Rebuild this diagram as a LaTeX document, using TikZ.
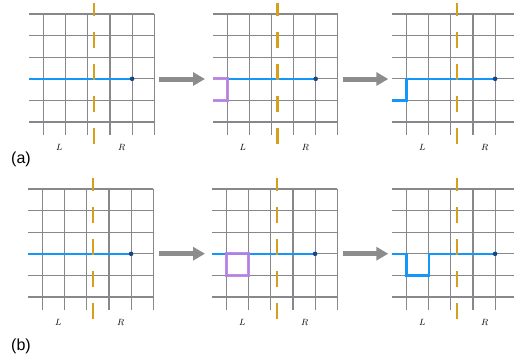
\documentclass[tikz,border=0pt]{standalone}
\usepackage{fontspec}
\newfontfamily\capfont{Liberation Sans}
\usetikzlibrary{arrows.meta}
\definecolor{gridgray}{RGB}{136,136,140}
\definecolor{pathblue}{RGB}{20,150,250}
\definecolor{dotblue}{RGB}{25,70,130}
\definecolor{cutorange}{RGB}{212,160,30}
\definecolor{loopviolet}{RGB}{185,130,230}
\definecolor{arrowgray}{RGB}{140,140,140}
\tikzset{
  gridline/.style={draw=gridgray, line width=1.15pt},
  cutline/.style={draw=cutorange, line width=2.6pt},
  bluepath/.style={draw=pathblue, line width=2.5pt, line join=miter},
  violetpath/.style={draw=loopviolet, line width=3.2pt, line join=miter, opacity=0.9},
  sidelab/.style={inner sep=0pt, font=\fontsize{9.5}{11}\selectfont},
  caplab/.style={inner sep=0pt, font=\capfont\fontsize{16}{19}\selectfont},
  bigarrow/.style={draw=arrowgray, line width=5pt, -{Triangle[length=12pt,width=13pt]}},
  enddot/.style={fill=dotblue},
}
\newcommand\drawlattice[3]{%
  \begin{scope}[shift={(#1,#2)}]
    \foreach \k in {0,...,5} \draw[gridline] (-14.4,\k*21.6) -- (110.5,\k*21.6);
    \foreach \i in {0,...,5} \draw[gridline] (\i*22.1,0) -- (\i*22.1,121.3);
    \node[sidelab] (#3L) at (15.5,133) {$L$};
    \node[sidelab] (#3R) at (78,133) {$R$};
  \end{scope}}
\newcommand\drawcut[2]{%
  \begin{scope}[shift={(#1,#2)}]
    \foreach \a/\b in {-10.7/2, 18.3/34.3, 50.3/66.3, 82.3/98.3, 114.3/130.3}
      \draw[cutline] (50.3,\a) -- (50.3,\b);
    \fill[enddot] (88.4,64.8) circle[radius=2.3pt];
  \end{scope}}
\begin{document}
\begin{tikzpicture}[x=1pt, y=-1pt]
\useasboundingbox (0,0) rectangle (514,360);
% ---------- row (a) ----------
\drawlattice{43.7}{14}{ta}
\drawlattice{227.3}{14}{tb}
\drawlattice{406.7}{14}{tc}
\begin{scope}[shift={(43.7,14)}]
  \draw[bluepath] (-14.4,64.8) -- (88.4,64.8);
\end{scope}
\begin{scope}[shift={(227.3,14)}]
  \draw[bluepath] (0,64.8) -- (88.4,64.8);
  \draw[violetpath] (-14.4,64.8) -- (0,64.8) -- (0,86.4) -- (-14.4,86.4);
\end{scope}
\begin{scope}[shift={(406.7,14)}]
  \draw[bluepath] (-14.4,86.4) -- (0,86.4) -- (0,64.8) -- (88.4,64.8);
\end{scope}
\drawcut{43.7}{14}
\drawcut{227.3}{14}
\drawcut{406.7}{14}
\coordinate (ta1) at (159,79);
\coordinate (ta2) at (205,79);
\coordinate (tb1) at (342.7,79);
\coordinate (tb2) at (388.3,79);
\draw[bigarrow] (ta1) -- (ta2);
\draw[bigarrow] (tb1) -- (tb2);
\node[caplab] (capa) at (21,159.5) {(a)};
% ---------- row (b) ----------
\drawlattice{42.7}{189}{ba}
\drawlattice{226.7}{189}{bb}
\drawlattice{406.7}{189}{bc}
\begin{scope}[shift={(42.7,189)}]
  \draw[bluepath] (-14.4,64.8) -- (88.4,64.8);
\end{scope}
\begin{scope}[shift={(226.7,189)}]
  \draw[bluepath] (-14.4,64.8) -- (88.4,64.8);
  \draw[violetpath] (0,64.8) rectangle (22.1,86.4);
\end{scope}
\begin{scope}[shift={(406.7,189)}]
  \draw[bluepath] (-14.4,64.8) -- (0,64.8) -- (0,86.4) -- (22.1,86.4) -- (22.1,64.8) -- (88.4,64.8);
\end{scope}
\drawcut{42.7}{189}
\drawcut{226.7}{189}
\drawcut{406.7}{189}
\coordinate (ba1) at (159,253.7);
\coordinate (ba2) at (205,253.7);
\coordinate (bb1) at (342.7,253.7);
\coordinate (bb2) at (388.3,253.7);
\draw[bigarrow] (ba1) -- (ba2);
\draw[bigarrow] (bb1) -- (bb2);
\node[caplab] (capb) at (21,346) {(b)};
\end{tikzpicture}
\end{document}
